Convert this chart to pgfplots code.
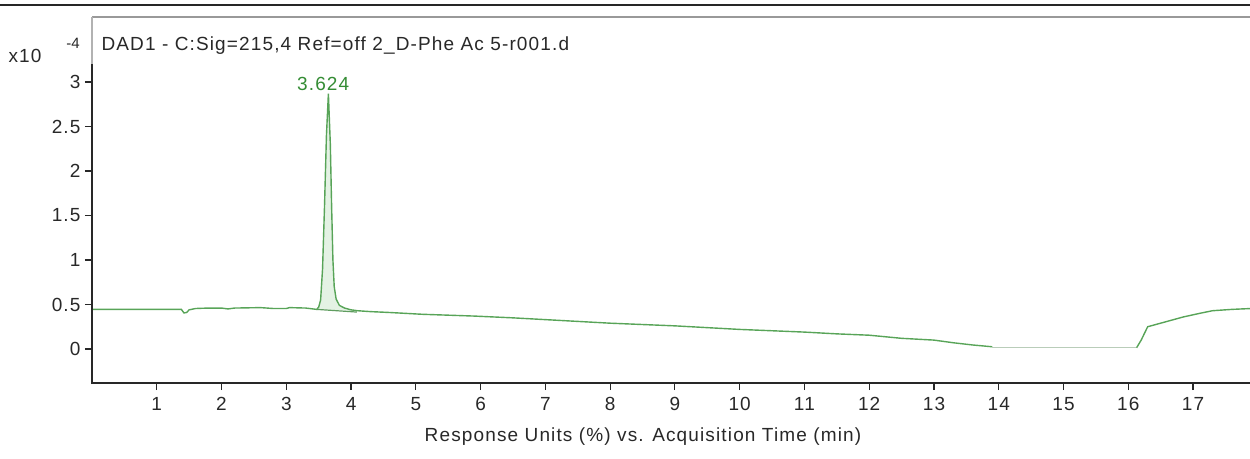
\documentclass[border=0pt]{standalone}
\usepackage{fontspec}
\setmainfont{Liberation Sans}
\usepackage{pgfplots}
\pgfplotsset{compat=1.18}
\definecolor{sig}{RGB}{88,164,88}
\definecolor{sigfill}{RGB}{228,242,228}
\definecolor{sigtext}{RGB}{52,140,52}
\definecolor{flat}{RGB}{185,205,185}
\definecolor{txt}{RGB}{40,40,40}
\newcommand\lab{\fontsize{19bp}{22bp}\selectfont\addfontfeature{LetterSpace=6}}
\newcommand\labsmall{\fontsize{15bp}{17bp}\selectfont}
\begin{document}
\begin{tikzpicture}
\useasboundingbox (-92bp,-76bp) rectangle (1158bp,383bp);
\begin{axis}[
  at={(0,0)}, anchor=south west,
  scale only axis, width=1158bp, height=366bp,
  xmin=0, xmax=17.88, ymin=-0.382, ymax=3.730,
  axis x line*=bottom, axis y line*=left,
  axis line style={-},
  x axis line style={draw=txt, line width=2bp},
  y axis line style={draw=none},
  xtick={1,...,17}, ytick={0,0.5,1,1.5,2,2.5,3},
  tick align=outside, major tick length=7bp,
  tick style={draw=txt, line width=1.2bp},
  /pgf/number format/assume math mode=true,
  tick label style={font=\lab, text=txt},
  yticklabel style={xshift=-1bp},
  xticklabel style={yshift=-4bp},
  clip mode=individual,
]
% peak fill
\addplot[fill=sigfill, draw=none] coordinates {
(3.47,0.445) (3.50,0.47) (3.53,0.55) (3.56,0.90) (3.59,1.60) (3.62,2.40) (3.65,2.87)
(3.68,2.30) (3.70,1.60) (3.72,1.00) (3.74,0.70) (3.77,0.56) (3.82,0.49) (3.90,0.46)
(4.00,0.44) (4.09,0.425) (3.47,0.445)} -- cycle;
% peak baseline
\addplot[color=sig!80!gray, line width=1.2bp] coordinates {(3.47,0.445) (4.09,0.415)};
% main trace
\addplot[color=sig, line width=1.4bp] coordinates {
(0,0.445) (1.0,0.445) (1.38,0.445) (1.42,0.405) (1.46,0.41) (1.5,0.44) (1.6,0.455)
(1.8,0.46) (2.0,0.46) (2.1,0.45) (2.2,0.46) (2.6,0.465) (2.8,0.455) (3.0,0.455)
(3.05,0.465) (3.3,0.46) (3.47,0.445)
(3.50,0.47) (3.53,0.55) (3.56,0.90) (3.59,1.60) (3.62,2.40) (3.65,2.87)
(3.68,2.30) (3.70,1.60) (3.72,1.00) (3.74,0.70) (3.77,0.56) (3.82,0.49) (3.90,0.46)
(4.0,0.44) (4.1,0.43) (4.3,0.42) (4.6,0.41) (5.1,0.39) (5.9,0.37) (6.5,0.35)
(7.0,0.33) (7.5,0.31) (8.0,0.29) (8.5,0.275) (9.0,0.26) (9.5,0.24) (10.0,0.22)
(10.5,0.205) (11.0,0.19) (11.5,0.17) (12.0,0.155) (12.5,0.12) (13.0,0.10)
(13.3,0.07) (13.6,0.045) (13.9,0.025)};
% flat section
\addplot[color=flat, line width=1.2bp] coordinates {(13.9,0.015) (16.13,0.015)};
% re-rise
\addplot[color=sig, line width=1.4bp] coordinates {
(16.13,0.015) (16.2,0.10) (16.3,0.25) (16.4,0.27) (16.6,0.31) (16.85,0.36)
(17.1,0.40) (17.3,0.43) (17.6,0.445) (17.9,0.455)};
\node[text=sigtext, font=\lab] at (axis cs:3.57,2.98) {3.624};
\node[anchor=west, text=txt, font=\lab] at (rel axis cs:0.0052,0.9208) {DAD1 - C:Sig=215,4 Ref=off 2\_D-Phe Ac 5-r001.d};
\node[anchor=east, text=txt, font=\lab] at (rel axis cs:-0.0406,0.893) {x10};
\node[text=txt, font=\labsmall] at (rel axis cs:-0.0164,0.929) {-4};
\node[text=txt, font=\lab] at (rel axis cs:0.4758,-0.1475) {Response Units (\%) vs. Acquisition Time (min)};
\end{axis}
\draw[black!85, line width=2bp] (-92bp,378bp) -- (1158bp,378bp);
\draw[gray!80, line width=2.5bp] (0bp,366bp) -- (1158bp,366bp);
\draw[gray!60, line width=1.5bp] (0bp,0bp) -- (0bp,366bp);
\draw[txt, line width=2bp] (0bp,-1bp) -- (0bp,319bp);
\end{tikzpicture}
\end{document}
